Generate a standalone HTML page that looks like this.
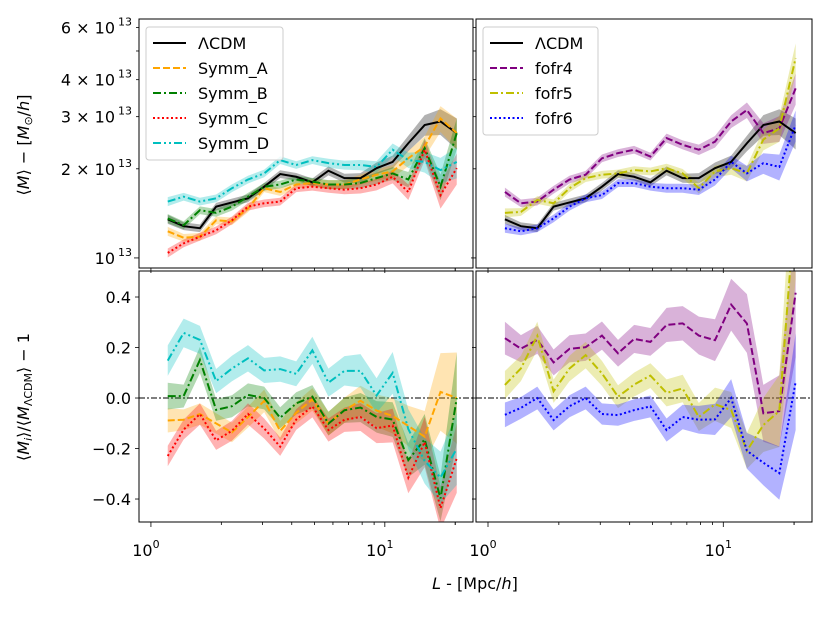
<!DOCTYPE html>
<html><head><meta charset="utf-8"><style>
body{margin:0;background:#fff;}
svg text{font-family:"DejaVu Sans","Liberation Sans",sans-serif;fill:#000;}
</style></head><body>
<svg id="chart" width="831" height="614" xmlns="http://www.w3.org/2000/svg"></svg>
<script>
const L = [1.18,1.38,1.62,1.90,2.22,2.60,3.05,3.57,4.18,4.90,5.74,6.72,7.87,9.22,10.8,12.6,14.8,17.3,20.3];
const lcdm  = [1.35,1.28,1.26,1.49,1.54,1.59,1.74,1.92,1.88,1.80,1.97,1.86,1.86,2.01,2.11,2.44,2.81,2.89,2.64];
const symmA = [1.23,1.17,1.18,1.34,1.33,1.47,1.72,1.67,1.77,1.79,1.77,1.77,1.84,1.91,1.96,2.17,2.38,2.96,2.64];
const symmB = [1.36,1.29,1.45,1.42,1.49,1.61,1.74,1.77,1.84,1.81,1.77,1.77,1.79,1.86,1.93,1.84,2.35,1.74,2.64];
const symmC = [1.04,1.12,1.18,1.24,1.34,1.49,1.53,1.55,1.72,1.74,1.72,1.70,1.72,1.77,1.88,1.67,2.32,1.63,2.01];
const symmD = [1.55,1.61,1.55,1.59,1.72,1.84,1.93,2.14,2.06,2.14,2.09,2.06,2.06,2.03,2.32,2.14,2.11,1.98,2.11];
const fofr4 = [1.67,1.53,1.55,1.70,1.84,1.91,2.17,2.26,2.32,2.20,2.54,2.41,2.32,2.47,2.89,3.16,2.64,2.74,3.74];
const fofr5 = [1.42,1.43,1.57,1.53,1.72,1.86,1.91,1.93,1.98,1.96,2.01,1.93,1.72,1.96,2.01,1.93,2.51,2.74,4.73];
const fofr6 = [1.26,1.23,1.26,1.36,1.49,1.59,1.63,1.79,1.79,1.74,1.72,1.72,1.70,1.84,2.11,1.93,2.09,2.03,2.81];
const relErr = [0.035,0.03,0.03,0.03,0.03,0.03,0.03,0.03,0.03,0.03,0.035,0.035,0.04,0.045,0.05,0.06,0.08,0.1,0.12];
const topTicks = [1,2,3,4,5,6];
const topTickLabels = ["10","2 × 10","3 × 10","4 × 10","","6 × 10"];
const botTicks = [0.4,0.2,0.0,-0.2,-0.4];
const botTickLabels = ["0.4","0.2","0.0","−0.2","−0.4"];

const NS="http://www.w3.org/2000/svg";
const svg=document.getElementById('chart');
function el(tag,attrs,parent){const e=document.createElementNS(NS,tag);for(const k in attrs)e.setAttribute(k,attrs[k]);(parent||svg).appendChild(e);return e;}

const panels=[
 {x0:139,x1:473,y0:19,y1:268,top:true,left:true,name:'top-left-panel'},
 {x0:476,x1:812,y0:19,y1:268,top:true,left:false,name:'top-right-panel'},
 {x0:139,x1:473,y0:271,y1:522,top:false,left:true,name:'bottom-left-panel'},
 {x0:476,x1:812,y0:271,y1:522,top:false,left:false,name:'bottom-right-panel'}];
const XMIN=-0.051, XMAX=1.377;
function xs(p,v){return p.x0+(Math.log10(v)-XMIN)/(XMAX-XMIN)*(p.x1-p.x0);}
function ys(p,v){ if(p.top){const lo=-0.034,hi=0.807;return p.y1-(Math.log10(v)-lo)/(hi-lo)*(p.y1-p.y0);} const lo=-0.491,hi=0.503;return p.y1-(v-lo)/(hi-lo)*(p.y1-p.y0);}

const leftSeries=[{d:symmA,c:'#ffa500',da:'7,3',n:'Symm_A'},{d:symmB,c:'#008000',da:'8,3,2,3',n:'Symm_B'},{d:symmC,c:'#ff0000',da:'2,2.5',n:'Symm_C'},{d:symmD,c:'#00bfbf',da:'8,3,2,3,2,3',n:'Symm_D'}];
const rightSeries=[{d:fofr4,c:'#800080',da:'7,3',n:'fofr4'},{d:fofr5,c:'#bfbf00',da:'8,3,2,3',n:'fofr5'},{d:fofr6,c:'#0000ff',da:'2,2.5',n:'fofr6'}];

panels.forEach((p,pi)=>{
  const g=el('g',{});
  
  
  const cid='clip'+pi;
  const cp=el('clipPath',{id:cid},g);el('rect',{x:p.x0,y:p.y0,width:p.x1-p.x0,height:p.y1-p.y0},cp);
  const plot=el('g',{'clip-path':`url(#${cid})`},g);
  const ser=p.left?leftSeries:rightSeries;
  function band(vals,errs,color,name){
    let up=[],dn=[];
    vals.forEach((v,i)=>{
      if(p.top){up.push([xs(p,L[i]),ys(p,v*(1+errs[i]))]);dn.push([xs(p,L[i]),ys(p,v*(1-errs[i]))]);}
      else{up.push([xs(p,L[i]),ys(p,v+errs[i])]);dn.push([xs(p,L[i]),ys(p,v-errs[i])]);}
    });
    const pts=up.concat(dn.reverse()).map(q=>q.join(',')).join(' ');
    const b=el('polygon',{points:pts,fill:color,'fill-opacity':0.3,stroke:'none'},plot);
    
    
  }
  function line(vals,color,da,w,name){
    const pts=vals.map((v,i)=>xs(p,L[i])+','+ys(p,v)).join(' ');
    const l=el('polyline',{points:pts,fill:'none',stroke:color,'stroke-width':w,'stroke-dasharray':da||'none'},plot);
    
    
  }
  if(p.top){
    band(lcdm,relErr,'#000000','lcdm');
    ser.forEach(s=>band(s.d,relErr,s.c,s.n.toLowerCase()));
    line(lcdm,'#000','',2,'lcdm');
    ser.forEach(s=>line(s.d,s.c,s.da,2,s.n.toLowerCase()));
  } else {
    const z=el('line',{x1:p.x0,x2:p.x1,y1:ys(p,0),y2:ys(p,0),stroke:'#555','stroke-width':1.5,'stroke-dasharray':'6,2,2,2'},plot);
    
    
    ser.forEach(s=>{
      const r=s.d.map((v,i)=>v/lcdm[i]-1);
      const e=s.d.map((v,i)=>v/lcdm[i]*relErr[i]*1.5);
      band(r,e,s.c,s.n.toLowerCase()+'-ratio');
    });
    ser.forEach(s=>{
      const r=s.d.map((v,i)=>v/lcdm[i]-1);
      line(r,s.c,s.da,2,s.n.toLowerCase()+'-ratio');
    });
  }
  el('rect',{x:p.x0,y:p.y0,width:p.x1-p.x0,height:p.y1-p.y0,fill:'none',stroke:'#000','stroke-width':1},g);
  for(let dec=0;dec<=1;dec++)for(let m=1;m<=9;m++){
    const v=m*Math.pow(10,dec);const lv=Math.log10(v);
    if(lv<XMIN||lv>XMAX)continue;
    const x=xs(p,v);const len=m===1?5:3;
    el('line',{x1:x,x2:x,y1:p.y1,y2:p.y1+len,stroke:'#000','stroke-width':0.8},g);
    if(!p.top&&m===1){
      const t=el('text',{x:x-5,y:p.y1+34,'font-size':16,'text-anchor':'middle'},g);
      
      
      t.textContent='10';
      const s=el('tspan',{dy:-8,'font-size':11},t);s.textContent=String(dec);
    }
  }
  {const v=20;const x=xs(p,v);if(Math.log10(v)<XMAX)el('line',{x1:x,x2:x,y1:p.y1,y2:p.y1+3,stroke:'#000','stroke-width':0.8},g);}
  if(p.top){
    topTicks.forEach((t,i)=>{
      const y=ys(p,t);
      el('line',{x1:p.x0-(t===1?5:3),x2:p.x0,y1:y,y2:y,stroke:'#000','stroke-width':0.8},g);
      if(p.left&&topTickLabels[i]){
        const tx=el('text',{x:p.x0-24,y:y+6,'font-size':16,'text-anchor':'end'},g);
        
        
        tx.textContent=topTickLabels[i];
        const s=el('text',{x:p.x0-7,y:y-2,'font-size':11,'text-anchor':'end'},g);s.textContent='13';
      }
    });
  } else {
    botTicks.forEach((t,i)=>{
      const y=ys(p,t);
      el('line',{x1:p.x0-4,x2:p.x0,y1:y,y2:y,stroke:'#000','stroke-width':0.8},g);
      if(p.left){
        const tx=el('text',{x:p.x0-8,y:y+6,'font-size':16,'text-anchor':'end'},g);
        
        
        tx.textContent=botTickLabels[i];
      }
    });
  }
  if(p.top){
    const items=[{c:'#000',da:'',n:'ΛCDM'}].concat(ser);
    const lx=p.x0+7, ly=27, lw=p.left?137:115;
    const lg=el('g',{},g);
    
    
    el('rect',{x:lx,y:ly,width:lw,height:items.length*25+8,rx:3,fill:'#fff','fill-opacity':0.8,stroke:'#ccc'},lg);
    items.forEach((it,i)=>{
      const y=ly+16+i*25;
      const en=el('g',{},lg);
      
      
      el('line',{x1:lx+7,x2:lx+40,y1:y,y2:y,stroke:it.c,'stroke-width':2,'stroke-dasharray':it.da||'none'},en);
      const t=el('text',{x:lx+52,y:y+6,'font-size':16},en);t.textContent=it.n;
    });
  }
});
let t=el('text',{x:0,y:0,'font-size':16,'text-anchor':'middle',transform:'translate(29,145) rotate(-90)'});


t.innerHTML='⟨<tspan font-style="italic">M</tspan>⟩ − [<tspan font-style="italic">M</tspan><tspan font-size="11" dy="3">⊙</tspan><tspan dy="-3">/</tspan><tspan font-style="italic">h</tspan>]';
t=el('text',{x:0,y:0,'font-size':16,'text-anchor':'middle',transform:'translate(29,397) rotate(-90)'});


t.innerHTML='⟨<tspan font-style="italic">M</tspan><tspan font-size="11" dy="3" font-style="italic">i</tspan><tspan dy="-3">⟩/⟨</tspan><tspan font-style="italic">M</tspan><tspan font-size="11" dy="3">ΛCDM</tspan><tspan dy="-3">⟩ − 1</tspan>';
t=el('text',{x:475,y:589,'font-size':16,'text-anchor':'middle'});


t.innerHTML='<tspan font-style="italic">L</tspan> - [Mpc/<tspan font-style="italic">h</tspan>]';
</script>
</body></html>
